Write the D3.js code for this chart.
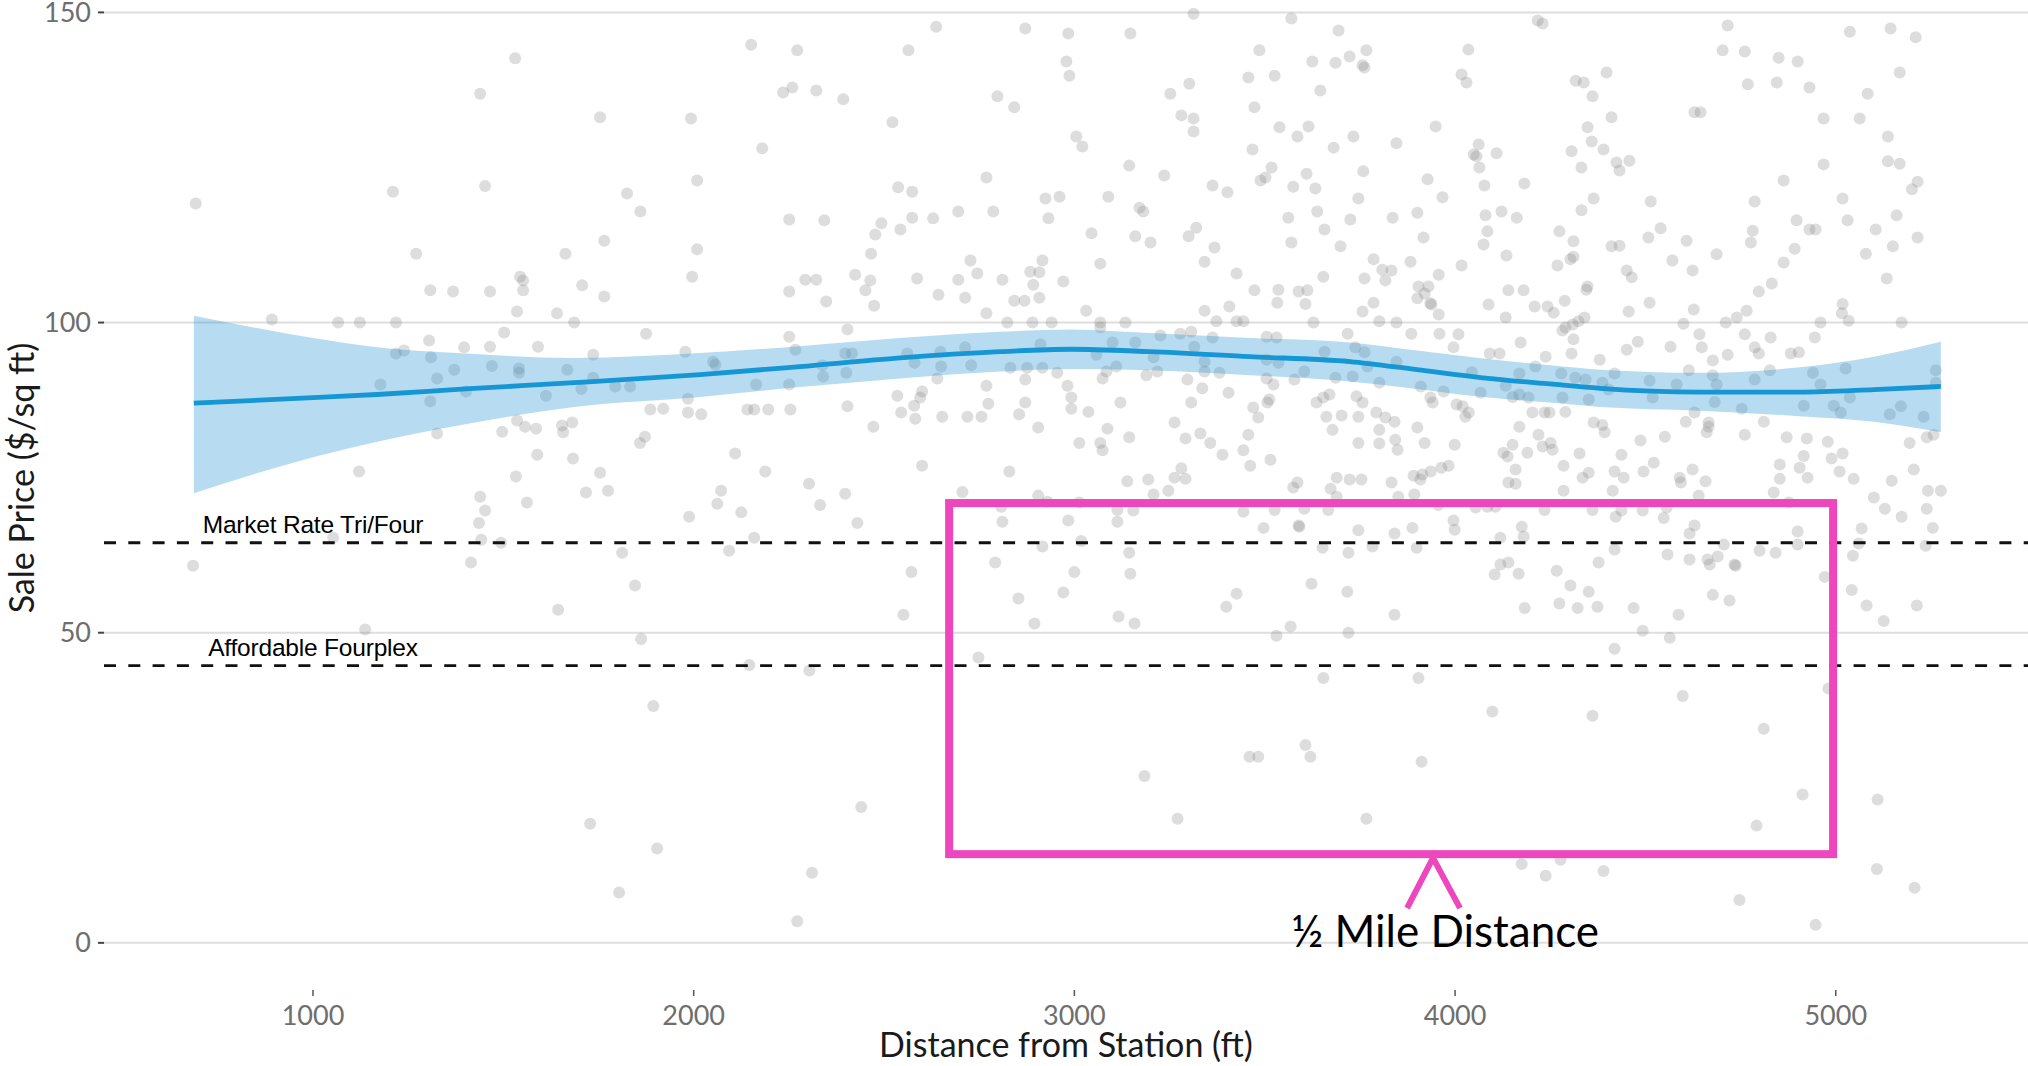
<!DOCTYPE html>
<html><head><meta charset="utf-8">
<script src="https://cdn.jsdelivr.net/npm/d3@7"></script>
<style>html,body{margin:0;padding:0;background:#fff;} svg{display:block;}</style>
</head><body>
<svg id="chart" width="2028" height="1066"></svg>
<script>
// ---------- data ----------
const xTicks = [1000, 2000, 3000, 4000, 5000];
const yTicks = [0, 50, 100, 150];
const refLabels = ["Market Rate Tri/Four", "Affordable Fourplex"];
const refValues = [64.5, 44.7];

const smoothDist = [687, 1000, 1168, 1400, 1686, 2017, 2279, 2542, 2805, 2990, 3199, 3461, 3724, 3900, 4073, 4249, 4381, 4643, 4906, 5100, 5276];
const smoothFit  = [87.0, 87.9, 88.4, 89.3, 90.3, 91.6, 92.9, 94.3, 95.3, 95.7, 95.3, 94.5, 93.7, 92.4, 91.1, 90.1, 89.4, 88.8, 88.8, 89.2, 89.7];
const smoothLow  = [72.5, 78.3, 80.8, 83.6, 86.4, 88.0, 89.6, 91.0, 92.1, 92.5, 92.3, 91.5, 90.5, 89.3, 88.0, 87.1, 86.4, 85.8, 84.9, 84.0, 82.3];
const smoothHigh = [101.1, 97.5, 96.0, 95.0, 94.3, 95.1, 96.2, 97.5, 98.5, 98.9, 98.3, 97.5, 96.8, 95.5, 94.2, 93.1, 92.4, 91.9, 92.8, 94.5, 96.9];

// [distance from station (ft), sale price ($/sq ft)]
const salePoints = [
[1531,142.6],[1439,136.9],[1754,133.1],[1993,132.9],[2009,122.9],[692,119.2],[1210,121.1],[1452,122],[1825,120.8],[1860,117.9],
[1271,111.1],[1663,111.1],[1765,113.2],[2009,111.8],[1544,107.4],[1552,106.8],[1308,105.2],[1368,105],[1465,105],[1552,105.2],
[1707,106],[1765,104.2],[1996,107.4],[1536,101.8],[1641,101.5],[892,100.5],[1066,100],[1123,100],[1218,100],[1686,100],
[1502,98.4],[1875,98.2],[1305,97.1],[1239,95.5],[1218,95],[1397,96],[1465,96.1],[1591,96.1],[1310,94.4],[1736,94.8],
[1978,95.3],[1371,92.4],[1326,91],[1470,93],[1541,92.6],[1541,91.9],[1668,92.4],[1177,90],[1736,91.1],[1794,89.7],[1833,89.7],
[1402,88.9],[1612,88.2],[1705,89.3],[1985,87.7],
[1308,87.3],[1326,82.1],[1497,82.4],[1536,84.2],[1557,83.2],[1586,82.9],[1654,83.4],[1657,82.3],[1681,83.9],[1886,86],
[1920,86.1],[1985,85.5],[1859,80.6],[1872,81.6],[1121,76],[1533,75.2],[1589,78.7],[1683,78.1],[1754,75.8],[1717,72.6],
[1775,72.9],[1439,71.9],[1562,71],[1452,69.7],[1436,67.7],[1988,68.7],[1053,65.3],[1442,65],[1494,64.5],[685,60.8],
[1415,61.3],[1812,62.9],[1846,57.6],[1644,53.7],[1137,50.5],[1862,49],[1894,38.2],
[3313,149.8],[3570,149],[2637,147.7],[2871,147.4],[2984,146.6],[3147,146.6],[3694,147.1],[2151,144.8],[2272,143.9],[2564,143.9],
[3486,143.9],[3767,143.9],[3625,142.1],[3686,141.9],[3723,142.9],[3762,141.1],[3757,141.5],[2979,142.1],[2987,139.8],[3457,139.5],
[3526,139.8],[3302,138.5],[3252,136.9],[2235,137.1],[2259,137.9],[2322,137.4],[2393,136],[2798,136.5],[2842,134.7],[3473,134.7],
[3646,137.4],[3281,133.4],[3313,132.9],[3313,130.8],[2522,132.3],[3539,131.5],[3586,130],[3615,131.6],[3733,130],[3846,128.9],
[2180,128.1],[3005,130],[3021,128.4],[3468,127.9],[3681,128.2],[3144,125.3],[3236,123.7],[3363,122.1],[3402,121],[2769,123.4],
[3489,122.9],[3502,123.4],[3518,125],[3575,121.9],[3610,124],[3633,121.6],[3759,124.4],[3746,120],[2537,121.8],[2574,121.1],
[2924,120],[2961,120.3],[3089,120.3],[3171,118.5],[3181,117.9],[2251,116.6],[2343,116.5],[2493,116],[2477,114.2],[2543,115],
[2574,116.9],[2629,116.8],[2695,117.9],[2787,117.9],[2932,116.8],[3045,114.4],[3160,113.9],[3200,112.9],[3300,113.9],[3320,115.3],
[3368,112.1],[3342,109.8],[3562,116.9],[3638,117.9],[3657,115],[3570,112.9],[3699,112.3],[3725,116.6],[3836,116.9],[3786,110.2],
[2466,111.1],[2727,110],[2745,107.9],[2916,110],[2908,108.1],[2884,108.2],[2892,106.1],[2908,104],[3068,109.5],[3426,107.9],
[3654,107.4],[3762,107.1],[3817,106.8],[3809,108.5],[3833,108.4],[2293,106.9],[2322,106.9],[2424,107.7],[2464,106.8],[2451,105.2],
[2474,102.7],[2251,105],[2348,103.4],[2587,107.1],[2643,104.5],[2713,104],[2695,106.9],[2811,106.9],[2842,103.5],[2869,103.5],
[2971,106.6],[3473,105.2],[3536,105.3],[3589,105],[3612,105.2],[3533,103.2],[3607,103],[3342,101.9],[3407,102.6],[3426,100.2],
[3444,100.2],[3373,100.2],[3757,101.8],[3786,103.2],[3801,100.2],[3846,100],[2769,101.5],[3031,101.9],[2824,100],[2890,100],
[2940,100],[3068,100],[3134,100],[2404,98.9],[2251,97.7],[3718,98.2],[3628,100],
[2051,93.7],[2057,93.2],[2267,95.6],[2164,90],[2251,90],[2338,93.1],[2340,91.3],[2398,95],[2416,95],[2401,91.9],
[2561,95],[2580,93.5],[2648,95.3],[2650,92.9],[2640,91],[2713,96],[2729,93.1],[2832,92.7],[2876,92.7],[2916,92.7],
[2871,90.8],[2911,96.5],[2955,91.9],[3068,99.2],[3058,94.8],[3100,96.8],[3160,96.8],[3226,97.9],[3278,98.2],[3307,98.5],
[3084,92.1],[3110,92.9],[3074,91],[3208,94.4],[3189,91.5],[3218,92.1],[3315,96.1],[3342,93.7],[3363,97.6],[3342,92.1],
[3381,91.9],[3297,90.8],[3505,97.7],[3531,97.6],[3505,94],[3536,93.5],[3505,91],[3523,90],[3578,90.8],[3604,92.1],
[3657,95.3],[3738,96],[3762,95.2],[3686,91.1],[3731,91.3],[3770,92.9],[3801,90.3],[3846,93.7],[2769,89.8],
[2141,86],[2159,86],[2196,86],[2254,86],[2020,85.2],[2404,86.5],[2472,83.2],[2535,88.2],[2600,88.9],[2595,87.9],
[2579,86.6],[2545,85.5],[2582,84.5],[2653,84.8],[2719,84.8],[2756,84.8],[2774,86.9],[2855,85.2],[2871,87.1],[2905,83.1],
[2982,89.8],[2992,87.9],[2992,86.1],[3037,85.6],[3013,80.6],[3068,80.6],[3087,82.9],[3144,81.5],[3121,87.1],[3263,83.9],
[3292,81.3],[3331,82.1],[3357,80.6],[3307,87.1],[3336,89.4],[3405,88.7],[3457,81.9],[3470,86.3],[3483,84.7],[3507,87.1],
[3512,87.6],[3636,87.1],[3654,87.9],[3670,88.4],[3662,84.8],[3702,85],[3678,82.7],[3746,84.8],[3741,88.1],[3757,87.1],
[3793,85.5],[3817,84.7],[3841,84],[3801,82.7],[3746,80.6],[3801,80.5],[3843,81.1],
[2109,78.9],[2188,76],[2072,72.9],[2062,70.8],[2125,69.4],[2303,74],[2332,70.6],[2398,72.4],[2430,67.7],[2600,76.9],
[2829,76],[2706,72.7],[2905,72.1],[2929,71.1],[3013,71],[3139,74.4],[3194,74.7],[2808,70.3],[2811,67.9],[2984,68.1],
[3113,69.8],[3155,69.7],[3113,67.9],[2159,65.3],[2093,63.2],[2916,63.9],[3018,64.8],[3144,62.9],[2572,59.8],[2792,61.3],
[3000,59.8],[3147,59.5],[2853,55.5],[2971,56.5],[2551,52.9],[2895,51.5],[3116,52.6],[3158,51.5],[2748,46],[2146,44.8],
[2304,43.9],[3184,26.9],[3074,79.4],
[4127,79],[4138,78.4],[4190,79],[4256,79.5],[4327,78.9],[4230,80],[4251,80.6],[3849,79.5],
[4285,76.9],[4335,75],[4351,75.8],[4159,76.3],[4140,74.2],[4159,74],[4285,72.9],
[3983,76.9],[3964,76.6],[3936,76],[3914,75.5],[3891,75.3],[3909,74.7],[3833,74.2],[3851,71.9],[3893,72.3],
[3689,75],[3723,74.7],[3754,74.7],[3673,73.2],[3689,71.9],[3586,74.2],[3575,73.4],
[3515,77.9],[3462,76.9],[3389,78.7],[3444,79.4],
[3263,75],[3281,76.5],[3292,74.8],[3247,72.9],[3208,72.3],
[3444,69.5],[3526,69.8],[3604,70],[3667,69.8],[3497,66.9],[3589,67.3],[3591,67.1],
[3746,66.5],[3841,66],[3888,66.9],[3956,70.6],[3996,68.1],[3999,66.6],[4054,70.2],[4085,70.3],[4106,70.3],[4175,67.1],
[4180,65.5],[4235,69.8],[4361,69.8],[4119,65.3],
[3652,63.7],[3720,62.9],[3783,63.9],[3899,63.7],
[4104,59.4],[4119,61],[4140,61.3],[4167,59.5],[4267,60],[4303,57.6],[4351,56.6],[4377,61.3],[4374,54.2],
[4183,54],[4274,54.7],[4322,54],
[3399,54.2],[3426,56.3],[3623,57.9],[3717,56.6],[3841,52.9],
[3531,49.5],[3568,51],[3720,50],[3654,42.7],[3904,42.7],[4098,37.3],[4361,36.6],
[3460,30],[3483,30],[3607,31.9],[3620,30],[3912,29.2],
[4437,78.7],[4419,76],[4443,75],[4414,72.9],[4495,76],[4522,77.4],[4590,75],[4593,74.2],[4624,76.3],[4658,74.4],[4640,72.1],
[4837,72.6],[4853,74.8],[4853,77.1],[4905,76.6],[4926,75],[4916,78.5],[4877,71],
[4989,78.1],[5018,78.9],[5010,76],[5047,74.8],
[5147,74.5],[5205,76.3],[5242,72.9],[5276,72.9],[5100,71.8],[5129,70],[5173,68.7],[5239,70],[5255,66.9],
[4422,68.7],[4437,69.7],[4493,69.7],[4548,68.5],[4556,70.2],[4629,67.3],[4616,66],
[4900,66.3],[4900,64.2],[4706,64.2],[4800,63.2],[4842,62.9],[5068,66.8],[5060,64.4],[5045,62.4],[5236,64],
[4419,63.4],[4558,62.6],[4616,61.8],[4663,61.8],[4669,61],[4690,62.3],[4734,61],[4737,60.8],
[4971,59],[5042,56.9],[5081,54.4],[5126,51.9],[5213,54.4],
[4677,56.1],[4721,55.2],[4469,54],[4587,52.9],
[4493,50.3],[4564,49.2],[4419,47.4],
[4981,41],[4598,39.8],[4811,34.5],[4913,23.9],[5110,23.1],
[3271,20],[3767,20],[4792,18.9],[4175,12.7],[4277,13.4],[4238,10.8],[4390,11.6],[5108,11.9],[5207,8.9],[4747,6.9],[4947,2.9],
[1728,19.2],[1904,15.2],[1804,8.1],[2311,11.3],[2272,3.5],[2440,21.9],
[4217,148.7],[4230,148.2],[4716,147.9],[5037,146.9],[5144,147.4],[5210,146],[4035,144],[4703,143.9],[4761,143.7],[4850,142.7],
[4900,142.1],[4017,140],[4030,138.7],[4317,139],[4338,138.7],[4398,140.3],[4361,136.5],[4769,138.4],[4845,138.7],[4931,137.9],
[5168,140.3],[5084,136.9],[3949,131.6],[4411,133.1],[4348,131.5],[4629,133.9],[4645,133.9],[4968,132.9],[5063,132.9],[5137,130],
[4062,128.7],[4049,127.1],[4056,126.8],[4064,125],[4077,122.1],[4109,127.3],
[4306,127.6],[4332,125],[4359,129.2],[4390,127.9],[4424,125.8],[4432,124.5],[4458,126.1],[4968,125.5],[5137,126],[5168,125.6],
[3928,123.1],[3967,120.2],[4182,122.4],[4863,122.9],[5215,122.7],[5200,121.5],
[3901,117.7],[3917,113.7],[3883,109.8],
[4080,117.3],[4122,117.9],[4162,116.9],[4085,114.7],[4075,112.6],[4135,110.8],
[4332,118.1],[4364,120],[4514,119.5],
[4274,114.7],[4311,113.1],[4311,110.6],[4303,110.2],[4269,109.2],
[4411,112.3],[4432,112.4],[4508,113.7],[4540,115.2],[4608,113.2],[4571,110],[4624,108.4],[4687,111],
[4787,119.5],[4782,114.8],[4777,112.9],[4897,116.5],[4931,115],[4947,115],[5031,116.5],[5018,120],[5105,115],
[4892,111.9],[4863,109.7],[4832,106.3],[4798,105],
[5150,112.3],[5079,111.1],[5134,107.1],[5160,117.3],[5215,113.7],
[4017,109.2],[3957,107.7],[4451,108.4],[4464,107.3],
[3904,105.8],[3930,105.8],[3920,104.7],[3901,103.9],[3935,103.1],[3938,102.9],[3957,101.3],
[4140,105.2],[4180,105.2],[4088,102.9],[4133,100.8],
[4209,102.6],[4243,102.6],[4259,101.6],[4288,103.5],
[4348,105.8],[4345,105.3],[4340,100.8],[4324,100.2],[4309,99.7],[4290,99.2],[4282,98.7],
[4456,101.8],[4511,103.2],[4627,102.1],
[4600,99.8],[4711,100],[4740,100.8],[4766,101.9],
[5018,103],[5016,101.5],[5034,100.3],[4960,100],[5173,100],
[3885,98.2],[3959,98.2],[4009,98.1],[3996,96],
[4172,96.8],[4238,94.5],[4306,95],[4311,97.3],[4091,95],[4117,95],
[4380,94],[4451,95.6],[4480,96.9],[4566,96.1],[4642,98.1],[4648,96],[4677,93.9],[4716,94.8],
[4761,98.1],[4787,96],[4798,95],[4829,97.6],[4945,97.6],[4882,95],[4903,95.2],
[3910,89.7],[3970,88.9],[4044,92],[4067,88.7],[4133,89.8],[4169,91.8],[4151,88],[4169,88.4],[4193,87.9],[4211,92.9],
[4279,91.8],[4282,87.9],[4316,91.1],[4343,90.8],[4351,87.6],[4387,90.3],[4403,89.2],[4419,91.8],[4511,90.6],[4519,87.9],
[4582,90],[4614,92.3],[4677,91.5],[4687,90],[4682,87.2],[4787,90.8],[4827,92.3],[4940,91.9],[4960,90],[5026,92.6],
[5037,87.9],[4916,86.6],[4995,86.6],[5013,85.5],[5142,85.2],[5171,86.5],[5231,84.8],[5263,92.3],[5263,90.3],[4753,86.1],
[3901,83.1],[3935,87.9],[3941,87.1],[4004,86.8],[4020,86.5],[4027,84.8],[4036,85.5],[4169,83.2],[4203,85.5],
[4219,81.9],[4235,85.5],[4248,85.5],[4290,85.6],[4364,83.9],[4387,83.5],[4393,82.3],[4487,81],[4551,81.6],[4606,84],
[4629,85.5],[4666,83.9],[4666,83.2],[4661,82.3],[4761,81.9],[4811,84],[4871,81.5],[4924,81.3],[4979,80.8],[5194,80.6],
[5239,81.5],[5257,81.9],[3920,80.6],[3999,80.3],[4151,80.3]
];

// callout (half-mile box), in data units
const boxDist = [2671, 4993];
const boxPrice = [14.3, 70.9];
const caretDist = [3874, 3942, 4013];
const caretPrice = [5.6, 13.7, 5.6];
const calloutLabel = "½ Mile Distance";
const calloutAt = [3974, -0.65];

const xTitle = "Distance from Station (ft)";
const yTitle = "Sale Price ($/sq ft)";

// ---------- drawing ----------
const W = 2028, H = 1066;
const panel = {left: 104, right: 2028, top: 0, bottom: 990};
const svg = d3.select("#chart");
svg.append("rect").attr("width", W).attr("height", H).attr("fill", "#fff");

const x = d3.scaleLinear().domain([451, 5505]).range([panel.left, panel.right]);
const y = d3.scaleLinear().domain([-7.6, 152]).range([panel.bottom, panel.top]);

// horizontal grid
svg.append("g").selectAll("line").data(yTicks).join("line")
  .attr("x1", panel.left).attr("x2", panel.right)
  .attr("y1", d => y(d)).attr("y2", d => y(d))
  .attr("stroke", "#dedede").attr("stroke-width", 2);

// points
svg.append("g").selectAll("circle").data(salePoints).join("circle")
  .attr("cx", d => x(d[0])).attr("cy", d => y(d[1])).attr("r", 6)
  .attr("fill", "#808080").attr("fill-opacity", 0.27);

// smoother ribbon + line
const sm = smoothDist.map((d, i) => ({d, f: smoothFit[i], lo: smoothLow[i], hi: smoothHigh[i]}));
svg.append("path").datum(sm)
  .attr("d", d3.area().x(p => x(p.d)).y0(p => y(p.lo)).y1(p => y(p.hi)).curve(d3.curveMonotoneX))
  .attr("fill", "#1f8fd0").attr("fill-opacity", 0.32);
svg.append("path").datum(sm)
  .attr("d", d3.line().x(p => x(p.d)).y(p => y(p.f)).curve(d3.curveMonotoneX))
  .attr("fill", "none").attr("stroke", "#1596d5").attr("stroke-width", 4.8);

// reference lines
svg.append("g").selectAll("line").data(refValues).join("line")
  .attr("x1", panel.left).attr("x2", panel.right)
  .attr("y1", d => y(d)).attr("y2", d => y(d))
  .attr("stroke", "#111").attr("stroke-width", 2.8).attr("stroke-dasharray", "12,12.3");
svg.append("g").selectAll("text").data(refLabels).join("text")
  .attr("x", x(1000)).attr("y", (d, i) => y(refValues[i] + 1.6))
  .attr("text-anchor", "middle")
  .attr("font-family", "'Liberation Sans', Arial, sans-serif").attr("font-size", 24.5)
  .attr("letter-spacing", -0.2)
  .attr("fill", "#000").text(d => d);

// y axis ticks + labels
const gy = svg.append("g");
gy.selectAll("line").data(yTicks).join("line")
  .attr("x1", panel.left - 6).attr("x2", panel.left)
  .attr("y1", d => y(d)).attr("y2", d => y(d))
  .attr("stroke", "#444").attr("stroke-width", 2);
gy.selectAll("text").data(yTicks).join("text")
  .attr("x", panel.left - 13).attr("y", d => y(d)).attr("dy", "0.35em")
  .attr("text-anchor", "end").attr("font-family", "Lato, sans-serif").attr("font-size", 27)
  .attr("fill", "#6e6e6e").text(d => d);

// x axis ticks + labels
const gx = svg.append("g");
gx.selectAll("line").data(xTicks).join("line")
  .attr("x1", d => x(d)).attr("x2", d => x(d))
  .attr("y1", panel.bottom).attr("y2", panel.bottom + 6)
  .attr("stroke", "#555").attr("stroke-width", 1.5);
gx.selectAll("text").data(xTicks).join("text")
  .attr("x", d => x(d)).attr("y", 1025)
  .attr("text-anchor", "middle").attr("font-family", "Lato, sans-serif").attr("font-size", 27)
  .attr("fill", "#6e6e6e").text(d => d);

// axis titles
svg.append("text").attr("x", (panel.left + panel.right) / 2).attr("y", 1057)
  .attr("text-anchor", "middle").attr("font-family", "Lato, sans-serif").attr("font-size", 34)
  .attr("fill", "#1a1a1a").text(xTitle);
svg.append("text").attr("transform", "translate(34,478) rotate(-90)")
  .attr("text-anchor", "middle").attr("font-family", "Lato, sans-serif").attr("font-size", 34)
  .attr("fill", "#1a1a1a").text(yTitle);

// callout box
const pink = "#EE46BC";
svg.append("rect")
  .attr("x", x(boxDist[0])).attr("y", y(boxPrice[1]))
  .attr("width", x(boxDist[1]) - x(boxDist[0])).attr("height", y(boxPrice[0]) - y(boxPrice[1]))
  .attr("fill", "none").attr("stroke", pink).attr("stroke-width", 8);
svg.append("path")
  .attr("d", d3.line()(caretDist.map((d, i) => [x(d), y(caretPrice[i])])))
  .attr("fill", "none").attr("stroke", pink).attr("stroke-width", 6);
svg.append("text").attr("x", x(calloutAt[0])).attr("y", y(calloutAt[1]))
  .attr("text-anchor", "middle").attr("font-family", "Lato, sans-serif").attr("font-size", 44)
  .attr("fill", "#000").text(calloutLabel);
</script>
</body></html>
